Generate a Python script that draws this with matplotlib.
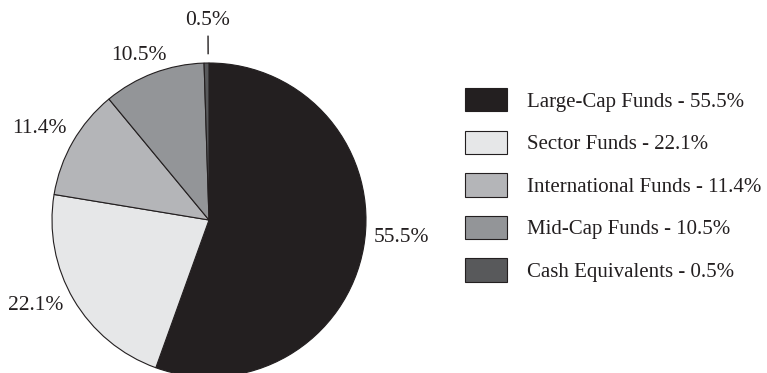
import numpy as np
import matplotlib
matplotlib.use("Agg")
import matplotlib.pyplot as plt

categories = ["Large-Cap Funds", "Sector Funds", "International Funds", "Mid-Cap Funds", "Cash Equivalents"]
values = [55.5, 22.1, 11.4, 10.5, 0.5]
colors = ["#231f20", "#e6e7e8", "#b4b5b8", "#939598", "#58595b"]

plt.rcParams['font.family'] = ['Liberation Serif', 'DejaVu Serif']
W, H = 767, 373
fig = plt.figure(figsize=(W / 100, H / 100), dpi=100)
cx, cy, R = 209, 220, 157
ax = fig.add_axes([(cx - R) / W, (H - cy - R) / H, 2 * R / W, 2 * R / H])

wedges, _ = ax.pie(values, colors=colors, startangle=90, counterclock=False,
                   radius=1, wedgeprops=dict(edgecolor="#231f20", linewidth=0.8))
ax.set_xlim(-1, 1)
ax.set_ylim(-1, 1)
ax.set_aspect('equal')
ax.axis('off')
for w in wedges:
    w.set_clip_on(False)

# label layout: (distance, angle nudge in degrees)
layout = [(1.228, 4.7), (1.23, -4.3), (1.23, 1.5), (1.14, 2.5), (1.27, -0.6)]
text_color = "#231f20"
for w, v, (d, nudge) in zip(wedges, values, layout):
    mid = np.deg2rad((w.theta1 + w.theta2) / 2 + nudge)
    ax.text(d * np.cos(mid), d * np.sin(mid), f"{v}%", ha='center', va='center',
            fontsize=15.5, color=text_color, clip_on=False)
    if v < 1:
        m = np.deg2rad((w.theta1 + w.theta2) / 2 - 0.6)
        ax.plot([1.06 * np.cos(m), 1.17 * np.cos(m)], [1.06 * np.sin(m), 1.17 * np.sin(m)],
                color=text_color, lw=1.0, clip_on=False)

legend_labels = [f"{c} - {v}%" for c, v in zip(categories, values)]
leg = fig.legend(handles=wedges, labels=legend_labels, loc='upper left',
                 bbox_to_anchor=(465 / W, 1 - 88 / H), frameon=False, borderpad=0,
                 borderaxespad=0, handlelength=2.0, handleheight=1.35,
                 labelspacing=0.91, handletextpad=0.96, fontsize=15,
                 labelcolor=text_color)

fig.savefig("out.png", dpi=100)
